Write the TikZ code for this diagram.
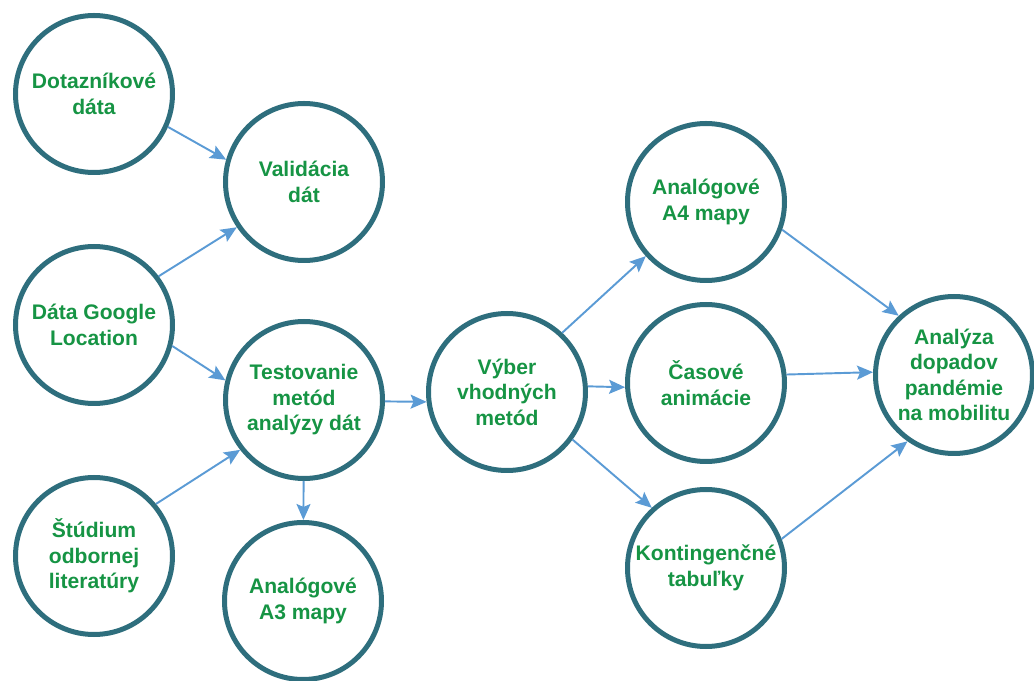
\documentclass[tikz,border=0pt]{standalone}
\usepackage{fontspec}
\setmainfont{Liberation Sans}
\usetikzlibrary{arrows.meta}
\definecolor{ringblue}{RGB}{46,110,125}
\definecolor{labelgreen}{RGB}{22,148,68}
\definecolor{flowblue}{RGB}{91,155,213}
\begin{document}
\begin{tikzpicture}[scale=0.2]
\tikzstyle{every node}+=[inner sep=0pt]
\tikzstyle{stage}=[circle, draw=ringblue, line width=0.1cm, minimum size=3.14cm, align=center, text=labelgreen, font=\bfseries\fontsize{12}{14.5}\selectfont]
\tikzstyle{flow}=[draw=flowblue, line width=1.1pt, -{Stealth[length=3.2mm,width=2.8mm,inset=0.6mm]}]
\useasboundingbox (0,0) rectangle (103.4,-68.1);
\node [stage] (dot) at (9.4,-9.4) {Dotazníkové\\dáta};
\node [stage] (val) at (30.4,-18.2) {Validácia\\dát};
\node [stage] (goo) at (9.4,-32.5) {Dáta Google\\Location};
\node [stage] (tes) at (30.4,-40) {Testovanie\\metód\\analýzy dát};
\node [stage] (stu) at (9.4,-55.6) {Štúdium\\odbornej\\literatúry};
\node [stage] (a3) at (30.3,-60.1) {Analógové\\A3 mapy};
\node [stage] (vyb) at (50.7,-39.2) {Výber\\vhodných\\metód};
\node [stage] (a4) at (70.6,-20.2) {Analógové\\A4 mapy};
\node [stage] (cas) at (70.6,-38.3) {Časové\\animácie};
\node [stage] (kon) at (70.6,-56.8) {Kontingenčné\\tabuľky};
\node [stage] (ana) at (95.4,-37.5) {Analýza\\dopadov\\pandémie\\na mobilitu};
\draw [flow] (dot.-24) -- (val.164);
\draw [flow] (goo.37) -- (val.-146);
\draw [flow] (goo.-15) -- (tes.166);
\draw [flow] (stu.40) -- (tes.-142);
\draw [flow] (tes) -- (a3);
\draw [flow] (tes.-1) -- (vyb.187);
\draw [flow] (vyb.47) -- (a4.-138);
\draw [flow] (vyb.4) -- (cas.183);
\draw [flow] (vyb.-36) -- (kon.132);
\draw [flow] (a4.-20) -- (ana.133);
\draw [flow] (cas.6) -- (ana.178);
\draw [flow] (kon.21) -- (ana.-125);
\end{tikzpicture}
\end{document}
